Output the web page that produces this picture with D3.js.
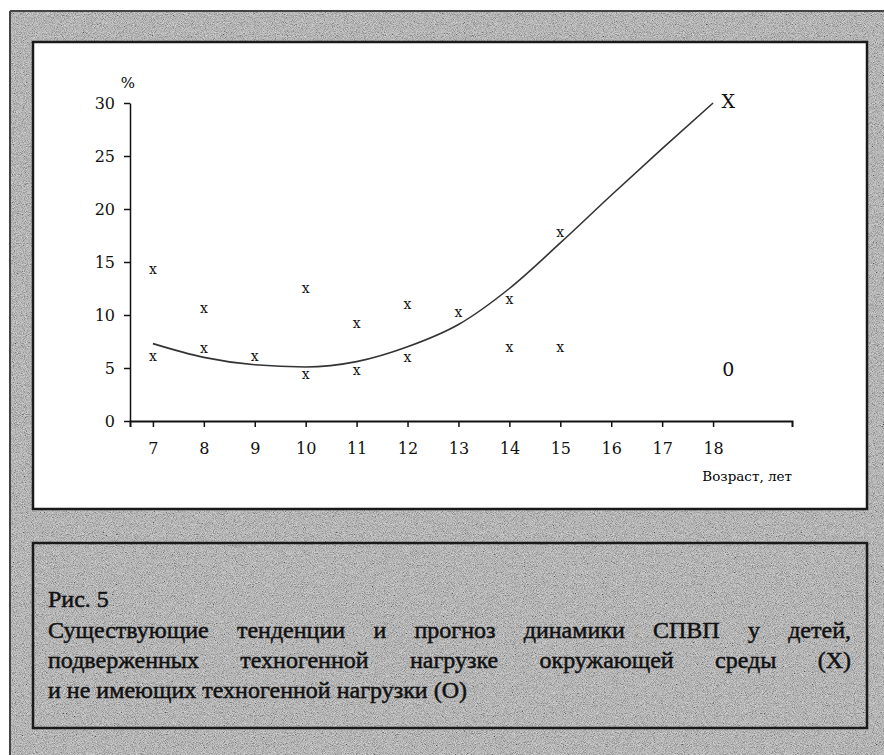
<!DOCTYPE html>
<html lang="ru">
<head>
<meta charset="UTF-8">
<title>Рис. 5</title>
<script src="https://cdn.jsdelivr.net/npm/d3@7"></script>
<style>
  body { margin: 0; background: #fff; }
  svg { display: block; }
  .axis text { font-family: "DejaVu Serif", serif; font-size: 16px; fill: #111; }
  .axis path, .axis line { stroke: #111; }
</style>
</head>
<body>
<div id="chart"></div>
<script>
// ages on the x axis and the tick values
var ages = [7, 8, 9, 10, 11, 12, 13, 14, 15, 16, 17, 18];
var yTicks = [0, 5, 10, 15, 20, 25, 30];
// trend + forecast line for group X, one value per age
var trendValues = [7.3, 6.0, 5.3, 5.1, 5.6, 7.0, 9.1, 12.5, 16.8, 21.3, 25.7, 30.0];
// observed points (little x marks)
var obsAges = [7, 7, 8, 8, 9, 10, 10, 11, 11, 12, 12, 13, 14, 14, 15, 15];
var obsValues = [14.2, 6.0, 10.5, 6.8, 6.0, 12.4, 4.3, 9.1, 4.7, 10.9, 5.9, 10.2, 11.4, 6.9, 17.7, 6.9];
// group names at the end of the forecast
var groupNames = ["X", "0"];
var groupAnchorValues = [30.2, 4.9];
var groupAnchorAge = 18.3;

var captionTitle = "Рис. 5";
var captionLines = [
  "Существующие тенденции и прогноз динамики СПВП у детей,",
  "подверженных техногенной нагрузке окружающей среды (Х)",
  "и не имеющих техногенной нагрузки (О)"
];

var W = 884, H = 755;
var svg = d3.select("#chart").append("svg").attr("width", W).attr("height", H);

// grainy grey paper
var defs = svg.append("defs");
var f = defs.append("filter").attr("id", "grain").attr("x", 0).attr("y", 0).attr("width", 1).attr("height", 1);
f.append("feTurbulence").attr("type", "fractalNoise").attr("baseFrequency", 1.1).attr("numOctaves", 2).attr("seed", 7);
f.append("feColorMatrix").attr("type", "matrix")
  .attr("values", "1.4 0 0 0 -0.2  1.4 0 0 0 -0.2  1.4 0 0 0 -0.2  0 0 0 0 0.55");

var bg = function(x, y, w, h) {
  svg.append("rect").attr("x", x).attr("y", y).attr("width", w).attr("height", h).attr("fill", "#ababab");
  svg.append("rect").attr("x", x).attr("y", y).attr("width", w).attr("height", h).attr("filter", "url(#grain)");
};
bg(10, 11, W - 10, H - 11);
svg.append("line").attr("x1", 10).attr("y1", 11).attr("x2", 10).attr("y2", H).attr("stroke", "#444").attr("stroke-width", 2);
svg.append("line").attr("x1", 10).attr("y1", 11).attr("x2", W).attr("y2", 11).attr("stroke", "#444").attr("stroke-width", 2);

// chart panel
svg.append("rect").attr("x", 33).attr("y", 42).attr("width", 834).attr("height", 467)
  .attr("fill", "#fff").attr("stroke", "#1a1a1a").attr("stroke-width", 2.5);

// caption panel
svg.append("rect").attr("x", 33).attr("y", 543).attr("width", 834).attr("height", 185)
  .attr("fill", "none").attr("stroke", "#1a1a1a").attr("stroke-width", 2.5);

var x = d3.scaleLinear().domain([6.55, 19.55]).range([130, 792]);
var y = d3.scaleLinear().domain([0, 30]).range([421, 103]);

var gx = svg.append("g").attr("class", "axis").attr("transform", "translate(0,421)")
  .call(d3.axisBottom(x).tickValues(ages).tickFormat(d3.format("d")).tickSize(6).tickPadding(16));
gx.select(".domain").attr("stroke-width", 2);
gx.selectAll(".tick line").attr("stroke-width", 1.5);

var gy = svg.append("g").attr("class", "axis").attr("transform", "translate(130,0)")
  .call(d3.axisLeft(y).tickValues(yTicks).tickSize(6).tickSizeOuter(0).tickPadding(9));
gy.select(".domain").attr("stroke-width", 1.5);
gy.selectAll(".tick line").attr("stroke-width", 1.5);

svg.append("text").attr("x", 128).attr("y", 88).attr("text-anchor", "middle")
  .style("font-family", "DejaVu Serif").style("font-size", "15px").text("%");
svg.append("text").attr("x", 792).attr("y", 481).attr("text-anchor", "end")
  .style("font-family", "DejaVu Serif").style("font-size", "13.5px").text("Возраст, лет");

// trend line
var line = d3.line().x(function(d, i) { return x(ages[i]); }).y(function(d) { return y(d); })
  .curve(d3.curveMonotoneX);
svg.append("path").datum(trendValues).attr("d", line)
  .attr("fill", "none").attr("stroke", "#333").attr("stroke-width", 1.6);

// observed marks
svg.selectAll(".obs").data(obsValues).enter().append("text").attr("class", "obs")
  .attr("x", function(d, i) { return x(obsAges[i]); })
  .attr("y", function(d) { return y(d); })
  .attr("dy", "0.27em").attr("text-anchor", "middle")
  .style("font-family", "DejaVu Serif").style("font-size", "14px").style("fill", "#111")
  .text("x");

svg.selectAll(".grp").data(groupNames).enter().append("text").attr("class", "grp")
  .attr("x", x(groupAnchorAge)).attr("y", function(d, i) { return y(groupAnchorValues[i]); })
  .attr("dy", "0.36em").attr("text-anchor", "middle")
  .style("font-family", "DejaVu Serif").style("font-size", "19px").style("fill", "#111")
  .text(function(d) { return d; });

// caption, first lines justified like the print
var capFont = function(t) {
  return t.style("font-family", "Liberation Serif").style("font-size", "24px").style("fill", "#111")
    .style("stroke", "#111").style("stroke-width", "0.5px");
};
capFont(svg.append("text").attr("x", 48).attr("y", 607).text(captionTitle));
var baselines = [638, 668, 698];
var left = 48, right = 851;
captionLines.forEach(function(ln, li) {
  var words = ln.split(" ");
  var g = svg.append("g");
  var nodes = words.map(function(w) { return capFont(g.append("text").attr("y", baselines[li]).text(w)); });
  var widths = nodes.map(function(n) { return n.node().getComputedTextLength(); });
  var total = d3.sum(widths);
  var gap = li < captionLines.length - 1 ? (right - left - total) / (words.length - 1) : 6;
  var pos = left;
  nodes.forEach(function(n, i) { n.attr("x", pos); pos += widths[i] + gap; });
});
</script>
</body>
</html>
